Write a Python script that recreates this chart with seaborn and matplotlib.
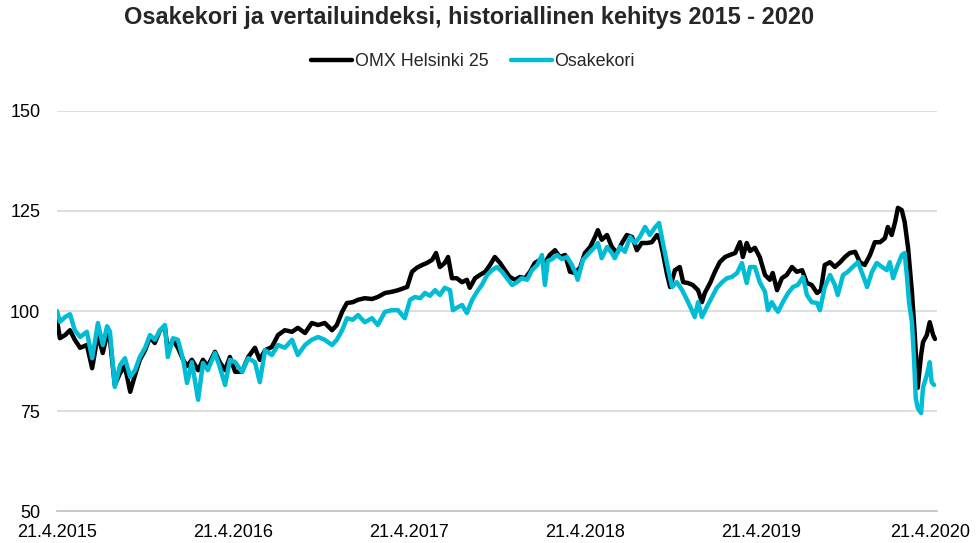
import pandas as pd
import matplotlib.pyplot as plt
from matplotlib.transforms import ScaledTranslation
import seaborn as sns

# days from 21.4.2015 and index values
omx_days = [0, 6, 17, 27, 37, 48, 62, 73, 85, 95, 104, 110, 120, 131, 141, 152, 162, 172, 183, 193,
            203, 214, 224, 230, 241, 251, 262, 270, 280, 293, 303, 313, 328, 338, 349, 359, 370, 384,
            397, 411, 421, 432, 446, 459, 473, 488, 500, 515, 529, 542, 556, 571, 581, 592, 602, 614,
            625, 639, 654, 666, 681, 695, 708, 727, 737, 747, 758, 768, 779, 787, 795, 805, 812, 820,
            830, 841, 851, 857, 868, 878, 889, 899, 909, 920, 930, 940, 951, 961, 972, 982, 992, 1003,
            1013, 1023, 1034, 1044, 1055, 1065, 1075, 1086, 1096, 1107, 1117, 1123, 1131, 1142, 1152,
            1163, 1173, 1183, 1194, 1204, 1214, 1225, 1235, 1246, 1252, 1258, 1266, 1273, 1283, 1293,
            1300, 1310, 1320, 1331, 1339, 1345, 1356, 1366, 1376, 1387, 1397, 1408, 1418, 1424, 1432,
            1439, 1449, 1459, 1470, 1480, 1486, 1495, 1505, 1515, 1526, 1536, 1547, 1557, 1567, 1578,
            1586, 1594, 1605, 1615, 1626, 1636, 1646, 1657, 1667, 1677, 1688, 1698, 1709, 1719, 1725,
            1733, 1740, 1746, 1754, 1760, 1767, 1775, 1781, 1787, 1794, 1798, 1806, 1812, 1819, 1823]
omx_values = [97.8, 93.2, 94.0, 95.2, 92.8, 90.8, 91.5, 85.7, 94.2, 89.5, 94.2, 92.8, 81.5, 84.5, 86.2,
              79.8, 84.0, 87.8, 90.2, 93.5, 92.0, 95.2, 96.0, 90.2, 92.8, 90.8, 87.8, 86.2, 87.8, 85.2,
              87.8, 86.2, 89.8, 87.2, 85.2, 88.5, 84.8, 84.8, 88.5, 90.8, 87.8, 90.2, 91.0, 94.0, 95.2,
              94.8, 95.8, 94.5, 97.0, 96.5, 97.0, 95.2, 96.5, 99.8, 102.0, 102.2, 102.8, 103.2, 103.0,
              103.5, 104.5, 104.8, 105.2, 106.0, 109.8, 110.8, 111.5, 112.0, 112.8, 114.5, 111.0, 112.0,
              113.5, 108.2, 108.2, 107.2, 107.8, 105.8, 108.2, 109.0, 109.8, 111.5, 113.5, 112.0, 110.2,
              108.5, 107.8, 108.5, 108.2, 109.8, 112.0, 112.8, 112.0, 114.0, 115.2, 113.5, 114.0, 109.8,
              109.5, 110.8, 114.5, 116.0, 118.5, 120.2, 117.8, 119.0, 116.0, 114.5, 117.0, 119.0, 118.5,
              115.2, 117.0, 117.0, 117.2, 119.0, 117.8, 114.5, 109.5, 106.0, 110.2, 111.0, 107.2, 107.0,
              106.5, 105.2, 102.2, 104.5, 107.0, 109.8, 112.2, 113.5, 114.0, 114.5, 117.2, 113.5, 117.0,
              115.0, 115.8, 113.5, 109.0, 107.8, 109.5, 105.2, 108.2, 109.0, 111.0, 109.8, 110.2, 107.0,
              106.5, 104.5, 105.2, 111.5, 112.2, 111.0, 112.2, 113.5, 114.5, 114.8, 112.2, 111.5, 114.0,
              117.2, 117.2, 118.2, 121.0, 119.0, 122.2, 125.8, 125.2, 122.2, 115.8, 104.8, 94.0, 80.8,
              89.0, 92.2, 94.0, 97.2, 94.0, 93.0]

kori_days = [0, 6, 17, 27, 37, 48, 62, 73, 85, 95, 104, 110, 120, 131, 141, 152, 162, 172, 183, 193,
             203, 214, 224, 230, 241, 251, 262, 270, 280, 293, 303, 313, 328, 338, 349, 359, 370, 384,
             397, 411, 421, 432, 446, 459, 473, 488, 500, 515, 529, 542, 556, 571, 581, 592, 602, 614,
             625, 639, 654, 666, 681, 695, 708, 722, 733, 743, 754, 764, 774, 785, 795, 805, 816, 822,
             830, 841, 851, 862, 872, 882, 893, 903, 913, 924, 934, 945, 955, 965, 976, 986, 997, 1007,
             1013, 1019, 1028, 1038, 1048, 1059, 1069, 1075, 1081, 1092, 1107, 1117, 1123, 1131, 1142,
             1152, 1158, 1169, 1179, 1190, 1200, 1210, 1221, 1231, 1241, 1250, 1258, 1268, 1277, 1287,
             1298, 1308, 1318, 1324, 1331, 1339, 1349, 1360, 1370, 1381, 1391, 1401, 1412, 1422, 1432,
             1439, 1449, 1459, 1470, 1476, 1484, 1491, 1497, 1507, 1518, 1528, 1538, 1549, 1557, 1567,
             1578, 1584, 1594, 1605, 1615, 1621, 1632, 1642, 1652, 1663, 1673, 1682, 1692, 1702, 1713,
             1723, 1729, 1736, 1744, 1754, 1760, 1765, 1769, 1775, 1779, 1783, 1787, 1794, 1798, 1806,
             1812, 1816, 1821]
kori_values = [100.0, 97.3, 98.5, 99.2, 95.2, 93.5, 94.8, 88.2, 97.0, 91.5, 96.2, 94.8, 81.0, 86.5, 88.2,
               83.5, 85.2, 88.5, 90.8, 94.0, 92.8, 95.2, 96.5, 88.5, 93.2, 92.8, 87.8, 82.0, 87.2, 77.8,
               87.0, 85.2, 89.5, 86.0, 81.5, 87.8, 87.2, 84.8, 88.2, 87.2, 82.2, 90.2, 89.0, 91.5, 90.8,
               92.8, 89.0, 91.5, 92.8, 93.5, 92.8, 91.5, 92.8, 95.2, 98.2, 97.8, 99.0, 97.2, 98.2, 96.5,
               99.8, 100.2, 100.2, 98.2, 102.8, 103.5, 103.2, 104.5, 103.8, 105.2, 104.0, 105.8, 105.2,
               100.2, 100.8, 101.5, 99.5, 102.8, 104.8, 106.5, 109.0, 110.2, 111.0, 109.8, 108.2, 106.5,
               107.2, 108.2, 107.8, 110.2, 111.5, 114.0, 106.5, 112.5, 113.0, 114.0, 113.0, 113.5, 111.5,
               110.0, 107.8, 112.8, 114.8, 116.0, 117.0, 113.2, 116.0, 114.5, 113.2, 116.0, 114.8, 118.5,
               117.0, 118.5, 121.0, 119.0, 120.8, 122.0, 117.0, 111.0, 106.0, 107.2, 105.2, 102.8, 100.2,
               98.5, 102.2, 98.5, 101.0, 103.5, 105.8, 107.2, 108.2, 108.5, 109.5, 112.0, 107.0, 111.0,
               111.0, 107.2, 104.8, 100.2, 102.2, 100.8, 99.8, 102.2, 104.5, 106.0, 106.5, 108.5, 104.0,
               102.2, 102.0, 100.2, 106.0, 109.0, 106.5, 104.0, 109.0, 109.8, 111.0, 112.2, 109.0, 106.0,
               109.8, 112.0, 111.0, 110.2, 112.2, 108.2, 111.0, 114.0, 114.5, 108.2, 102.2, 97.2, 89.0,
               78.2, 75.8, 74.5, 80.8, 84.0, 87.2, 82.2, 81.5]

series_names = ["OMX Helsinki 25", "Osakekori"]
series_colors = ["#000000", "#00BCD4"]
start_date = "2015-04-21"
tick_dates = ["2015-04-21", "2016-04-21", "2017-04-21", "2018-04-21", "2019-04-21", "2020-04-21"]
y_ticks = [50, 75, 100, 125, 150]
title = "Osakekori ja vertailuindeksi, historiallinen kehitys 2015 - 2020"

start = pd.Timestamp(start_date)
df = pd.concat([
    pd.DataFrame({"date": start + pd.to_timedelta(omx_days, unit="D"), "value": omx_values,
                  "series": series_names[0]}),
    pd.DataFrame({"date": start + pd.to_timedelta(kori_days, unit="D"), "value": kori_values,
                  "series": series_names[1]}),
], ignore_index=True)

sns.set_style("white")
plt.rcParams["font.family"] = ["Liberation Sans", "DejaVu Sans"]

fig = plt.figure(figsize=(9.76, 5.43), dpi=100)
ax = fig.add_axes([0.0584, 0.0589, 0.9016, 0.7367])

sns.lineplot(data=df, x="date", y="value", hue="series", hue_order=series_names,
             palette=dict(zip(series_names, series_colors)), estimator=None,
             linewidth=3.2, ax=ax, legend=True)

ticks = pd.to_datetime(tick_dates)
ax.set_xlim(ticks[0], ticks[-1])
ax.set_ylim(y_ticks[0], y_ticks[-1])
ax.set_xticks(ticks)
ax.set_xticklabels([f"{d.day}.{d.month}.{d.year}" for d in ticks], fontsize=13)
ax.set_yticks(y_ticks)
ax.set_yticklabels([str(v) for v in y_ticks], fontsize=13)
ax.set_xlabel("")
ax.set_ylabel("")

for v in y_ticks[1:]:
    ax.axhline(v, color="#d9d9d9", linewidth=1.2, zorder=0)

for s in ["top", "right", "left"]:
    ax.spines[s].set_visible(False)
ax.spines["bottom"].set_color("#bfbfbf")
ax.spines["bottom"].set_linewidth(1.2)
ax.tick_params(axis="x", direction="in", length=5, color="#bfbfbf", pad=9.5, labelcolor="#000000")
ax.tick_params(axis="y", length=0, pad=12, labelcolor="#000000")
for lbl in ax.get_yticklabels():
    lbl.set_horizontalalignment("right")

# last date label is nudged left so it stays inside the figure
last = ax.get_xticklabels()[-1]
last.set_transform(last.get_transform() + ScaledTranslation(-5 / 72, 0, fig.dpi_scale_trans))

handles, labels = ax.get_legend_handles_labels()
ax.legend(handles, labels, loc="center", bbox_to_anchor=(0.4727, 1.1225), ncol=2, frameon=False,
          fontsize=12.9, handlelength=2.3, handletextpad=0.15, columnspacing=1.25)

fig.text(0.4805, 0.967, title, ha="center", va="center", fontsize=16.9, fontweight="bold")

fig.savefig("out.png", dpi=100)
